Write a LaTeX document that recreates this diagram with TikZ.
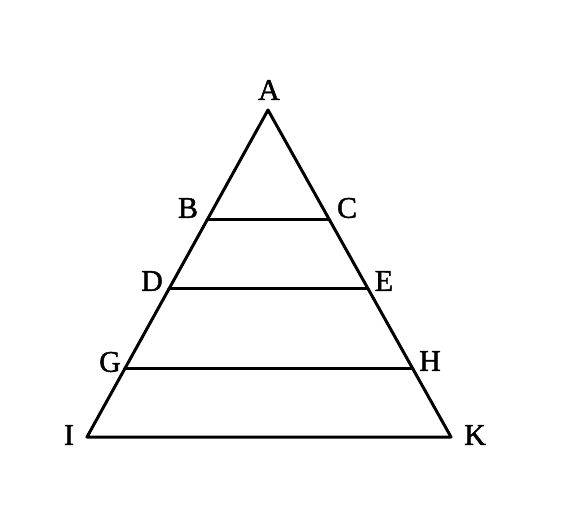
\documentclass[tikz,border=0pt]{standalone}
\usepackage{fontspec}
\setmainfont{Liberation Serif}[FakeBold=1.5]
\usetikzlibrary{calc}
\begin{document}
\begin{tikzpicture}[x=1pt,y=-1pt,
  edge/.style={line width=3pt,line join=round,line cap=round},
  lbl/.style={inner sep=0pt,font=\fontsize{30}{33}\selectfont}]
\useasboundingbox (0,0) rectangle (570,510);
\coordinate (A) at (268,110);
\coordinate (I) at (87,437);
\coordinate (K) at (451,437);
\coordinate (B) at ($(A)!0.336!(I)$);
\coordinate (C) at ($(A)!0.336!(K)$);
\coordinate (D) at ($(A)!0.547!(I)$);
\coordinate (E) at ($(A)!0.547!(K)$);
\coordinate (G) at ($(A)!0.792!(I)$);
\coordinate (H) at ($(A)!0.792!(K)$);
\draw[edge] (A) -- (I) -- (K) -- cycle;
\draw[edge] (B) -- (C);
\draw[edge] (D) -- (E);
\draw[edge] (G) -- (H);
\node[lbl] (lA) at (269,90) {A};
\node[lbl] (lB) at (188,208) {B};
\node[lbl] (lC) at (347,208) {C};
\node[lbl] (lD) at (152,281) {D};
\node[lbl] (lE) at (384,281) {E};
\node[lbl] (lG) at (110,362) {G};
\node[lbl] (lH) at (430,361) {H};
\node[lbl] (lI) at (69,435) {I};
\node[lbl] (lK) at (475,435) {K};
\end{tikzpicture}
\end{document}
